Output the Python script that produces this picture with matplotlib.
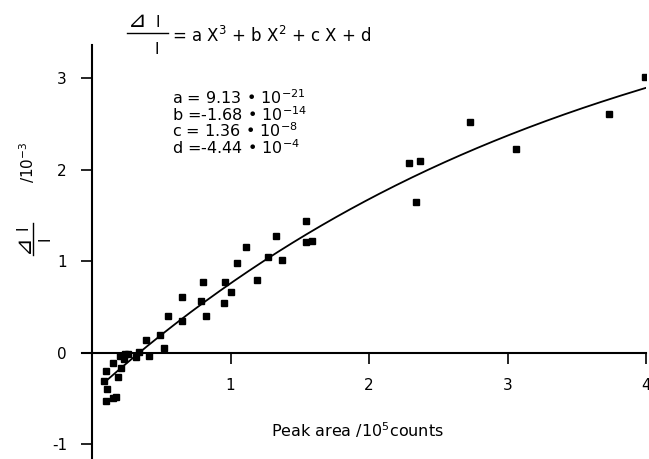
import numpy as np
import matplotlib.pyplot as plt

plt.rcParams['axes.unicode_minus'] = False

# measured points: peak area (1e5 counts) vs relative change (1e-3)
peak_area = [0.09, 0.10, 0.10, 0.11, 0.15, 0.17, 0.15, 0.19, 0.21, 0.20, 0.23,
             0.24, 0.26, 0.32, 0.34, 0.39, 0.41, 0.49, 0.52, 0.55, 0.65, 0.65,
             0.79, 0.80, 0.82, 0.95, 0.96, 1.00, 1.05, 1.11, 1.19, 1.27, 1.33,
             1.37, 1.545, 1.545, 1.59, 2.29, 2.34, 2.37, 2.73, 3.06, 3.73, 3.996]
delta_i = [-0.31, -0.20, -0.53, -0.40, -0.11, -0.48, -0.49, -0.27, -0.17, -0.04,
           -0.07, -0.01, -0.01, -0.05, 0.01, 0.14, -0.03, 0.19, 0.05, 0.40, 0.61,
           0.35, 0.57, 0.77, 0.40, 0.54, 0.77, 0.66, 0.98, 1.15, 0.79, 1.04, 1.27,
           1.01, 1.44, 1.21, 1.22, 2.07, 1.65, 2.09, 2.52, 2.22, 2.61, 3.01]

# fit coefficients as printed (X in counts)
coef_a = 9.13e-21
coef_b = -1.68e-14
coef_c = 1.36e-8
coef_d = -4.44e-4

x_ticks = [1, 2, 3, 4]
y_ticks = [-1, 0, 1, 2, 3]

fig = plt.figure(figsize=(6.49, 4.59), dpi=100)
ax = fig.add_axes([92 / 649, 0.0, (646 - 92) / 649, 1 - 45 / 459])

ax.set_xlim(0, 4)
ax.set_ylim(-1.16, 3.36)

# fitted curve, converted to the plot units
xx = np.linspace(0.085, 4, 300)
X = xx * 1e5
yy = (coef_a * X**3 + coef_b * X**2 + coef_c * X + coef_d) * 1e3
ax.plot(xx, yy, color='black', lw=1.3)
ax.plot(peak_area, delta_i, 's', color='black', ms=5)

for s in ['top', 'right']:
    ax.spines[s].set_visible(False)
ax.spines['left'].set_linewidth(1.5)
ax.spines['bottom'].set_position(('data', 0))
ax.spines['bottom'].set_linewidth(1.5)
ax.plot([-0.072, 0], [0, 0], color='black', lw=1.5, clip_on=False)

ax.set_xticks(x_ticks)
ax.set_yticks(y_ticks)
ax.tick_params(axis='x', direction='out', length=8, width=1.2, pad=10, labelsize=11)
ax.tick_params(axis='y', direction='out', length=8, width=1.2, pad=10, labelsize=11)

ax.text(1.92, -0.84, 'Peak area /10$^5$counts', ha='center', va='center', fontsize=11.5)

# y label: rotated fraction and unit
ax.text(-0.47, 2.08, '/10$^{-3}$', rotation=90, ha='center', va='center', fontsize=11)
ax.text(-0.50, 1.19, '\u22bf', rotation=90, ha='center', va='center', fontsize=16, clip_on=False)
ax.text(-0.50, 1.37, 'I', rotation=90, ha='center', va='center', fontsize=11, clip_on=False)
ax.plot([-0.425, -0.425], [1.07, 1.42], color='black', lw=1.0, clip_on=False)
ax.text(-0.34, 1.25, 'I', rotation=90, ha='center', va='center', fontsize=11, clip_on=False)

# equation at top
ax.text(0.325, 3.62, '\u22bf', ha='center', va='center', fontsize=16, clip_on=False)
ax.text(0.477, 3.61, 'I', ha='center', va='center', fontsize=11, clip_on=False)
ax.plot([0.253, 0.549], [3.49, 3.49], color='black', lw=1.0, clip_on=False)
ax.text(0.47, 3.31, 'I', ha='center', va='center', fontsize=11, clip_on=False)
ax.text(0.578, 3.46, '= a X$^3$ + b X$^2$ + c X + d', ha='left', va='center',
        fontsize=12, clip_on=False)

coef_lines = ['a = 9.13 \u2022 10$^{-21}$', 'b =-1.68 \u2022 10$^{-14}$',
              'c = 1.36 \u2022 10$^{-8}$', 'd =-4.44 \u2022 10$^{-4}$']
for i, t in enumerate(coef_lines):
    ax.text(0.58, 2.79 - i * 0.185, t, ha='left', va='center', fontsize=11.5)

fig.savefig('out.png', dpi=100)
